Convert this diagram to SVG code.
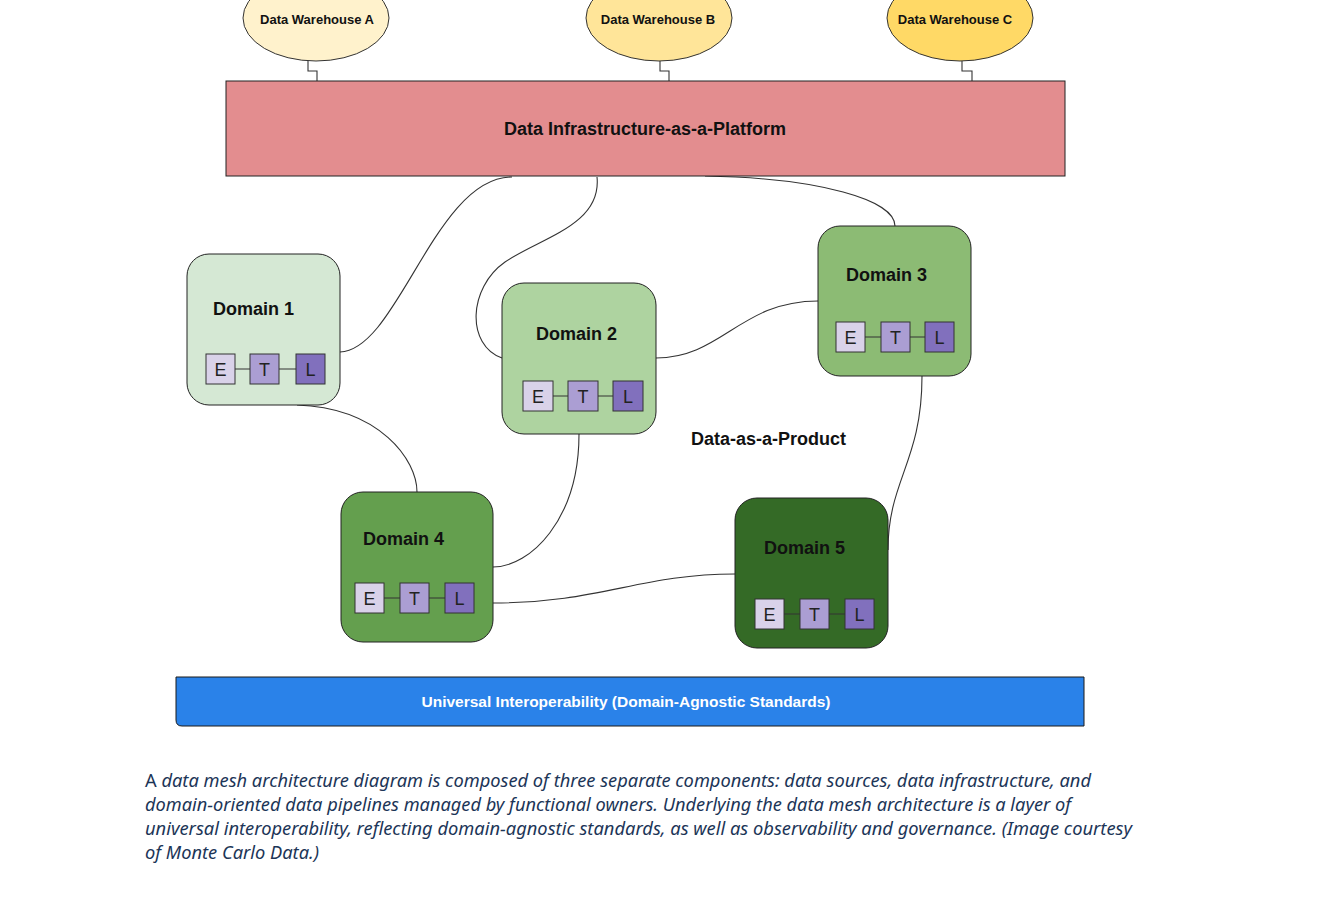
<svg xmlns="http://www.w3.org/2000/svg" width="1339" height="906" viewBox="0 0 1339 906">
<style>
.wh{stroke:#333;stroke-width:1}
.whl{font-family:"Liberation Sans",Arial,sans-serif;font-weight:bold;font-size:13px;fill:#111;text-anchor:middle}
.dom{stroke:#222;stroke-width:1}
.dt{font-family:"Liberation Sans",Arial,sans-serif;font-weight:bold;font-size:18px;fill:#111}
.e{fill:#d9d2e9;stroke:#333;stroke-width:1}
.t{fill:#ab9ed3;stroke:#333;stroke-width:1}
.l{fill:#8170bd;stroke:#333;stroke-width:1}
.etl{font-family:"Liberation Sans",Arial,sans-serif;font-size:18px;fill:#222;text-anchor:middle}
.ln{stroke:#333;stroke-width:1}
.con{fill:none;stroke:#333;stroke-width:1.1}
.cap{font-family:"Noto Sans","Open Sans",sans-serif;font-size:18px;fill:#1c3557}
</style>
<rect width="1339" height="906" fill="#ffffff"/>

<g id="connectors">
<path class="con" d="M308,61 V71 H317 V81"/>
<path class="con" d="M660,61 V71 H669 V81"/>
<path class="con" d="M962,61 V71 H972 V81"/>
<path class="con" d="M340,352 C398,350 435,177 512,177"/>
<path class="con" d="M597,177 C602,225 540,238 505,262 C468,288 466,345 502,358"/>
<path class="con" d="M705,176 C820,178 895,200 895,226"/>
<path class="con" d="M656,358 C722,358 740,301 818,301"/>
<path class="con" d="M297,405 C380,408 417,460 417,492"/>
<path class="con" d="M579,434 C579,520 530,567 493,567"/>
<path class="con" d="M493,603 C600,603 640,574 735,574"/>
<path class="con" d="M922,376 C922,462 888,480 888,550"/>
</g>

<g id="wh-a"><ellipse class="wh" cx="316" cy="18" rx="73" ry="43" fill="#fff2cc"/><text class="whl" x="317" y="24">Data Warehouse A</text></g>
<g id="wh-b"><ellipse class="wh" cx="659" cy="18" rx="73" ry="43" fill="#ffe599"/><text class="whl" x="658" y="24">Data Warehouse B</text></g>
<g id="wh-c"><ellipse class="wh" cx="960" cy="18" rx="73" ry="43" fill="#ffd966"/><text class="whl" x="955" y="24">Data Warehouse C</text></g>

<g id="platform">
<rect x="226" y="81" width="839" height="95" fill="#e38d8f" stroke="#222" stroke-width="1"/>
<text x="645" y="135" font-family="Liberation Sans,Arial,sans-serif" font-weight="bold" font-size="18" fill="#111" text-anchor="middle">Data Infrastructure-as-a-Platform</text>
</g>

<g id="domain1">
<rect class="dom" x="187" y="254" width="153" height="151" rx="22" fill="#d5e8d4"/>
<text class="dt" x="213" y="315">Domain 1</text>
<line class="ln" x1="235" y1="369" x2="296" y2="369"/>
<rect class="e" x="206" y="354" width="29" height="30"/><text class="etl" x="220.5" y="376">E</text>
<rect class="t" x="250" y="354" width="29" height="30"/><text class="etl" x="264.5" y="376">T</text>
<rect class="l" x="296" y="354" width="29" height="30"/><text class="etl" x="310.5" y="376">L</text>
</g>

<g id="domain2">
<rect class="dom" x="502" y="283" width="154" height="151" rx="22" fill="#aed3a0"/>
<text class="dt" x="536" y="340">Domain 2</text>
<line class="ln" x1="553" y1="396" x2="613" y2="396"/>
<rect class="e" x="523" y="381" width="30" height="30"/><text class="etl" x="538" y="403">E</text>
<rect class="t" x="568" y="381" width="30" height="30"/><text class="etl" x="583" y="403">T</text>
<rect class="l" x="613" y="381" width="30" height="30"/><text class="etl" x="628" y="403">L</text>
</g>

<g id="domain3">
<rect class="dom" x="818" y="226" width="153" height="150" rx="22" fill="#8cbb74"/>
<text class="dt" x="846" y="281">Domain 3</text>
<line class="ln" x1="865" y1="337" x2="925" y2="337"/>
<rect class="e" x="836" y="322" width="29" height="30"/><text class="etl" x="850.5" y="344">E</text>
<rect class="t" x="881" y="322" width="29" height="30"/><text class="etl" x="895.5" y="344">T</text>
<rect class="l" x="925" y="322" width="29" height="30"/><text class="etl" x="939.5" y="344">L</text>
</g>

<g id="domain4">
<rect class="dom" x="341" y="492" width="152" height="150" rx="22" fill="#649f4e"/>
<text class="dt" x="363" y="545">Domain 4</text>
<line class="ln" x1="384" y1="598" x2="445" y2="598"/>
<rect class="e" x="355" y="583" width="29" height="30"/><text class="etl" x="369.5" y="605">E</text>
<rect class="t" x="400" y="583" width="29" height="30"/><text class="etl" x="414.5" y="605">T</text>
<rect class="l" x="445" y="583" width="29" height="30"/><text class="etl" x="459.5" y="605">L</text>
</g>

<g id="domain5">
<rect class="dom" x="735" y="498" width="153" height="150" rx="22" fill="#346a26"/>
<text class="dt" x="764" y="554">Domain 5</text>
<line class="ln" x1="784" y1="614" x2="845" y2="614"/>
<rect class="e" x="755" y="599" width="29" height="30"/><text class="etl" x="769.5" y="621">E</text>
<rect class="t" x="800" y="599" width="29" height="30"/><text class="etl" x="814.5" y="621">T</text>
<rect class="l" x="845" y="599" width="29" height="30"/><text class="etl" x="859.5" y="621">L</text>
</g>

<g id="product-label">
<text x="691" y="445" font-family="Liberation Sans,Arial,sans-serif" font-weight="bold" font-size="18" fill="#111">Data-as-a-Product</text>
</g>

<g id="interop">
<path d="M176,677 H1084 V726 H182 Q176,726 176,720 Z" fill="#2a82e9" stroke="#1a1a1a" stroke-width="1"/>
<text x="626" y="707" font-family="Liberation Sans,Arial,sans-serif" font-weight="bold" font-size="15" fill="#ffffff" text-anchor="middle" textLength="409" lengthAdjust="spacingAndGlyphs">Universal Interoperability (Domain-Agnostic Standards)</text>
</g>

<g id="caption">
<text class="cap" x="145" y="787" textLength="946" lengthAdjust="spacingAndGlyphs">A <tspan font-style="italic">data mesh architecture diagram is composed of three separate components: data sources, data infrastructure, and</tspan></text>
<text class="cap" x="145" y="811" font-style="italic" textLength="926" lengthAdjust="spacingAndGlyphs">domain-oriented data pipelines managed by functional owners. Underlying the data mesh architecture is a layer of</text>
<text class="cap" x="145" y="835" font-style="italic" textLength="987" lengthAdjust="spacingAndGlyphs">universal interoperability, reflecting domain-agnostic standards, as well as observability and governance. (Image courtesy</text>
<text class="cap" x="145" y="859" font-style="italic" textLength="174" lengthAdjust="spacingAndGlyphs">of Monte Carlo Data.)</text>
</g>
</svg>
